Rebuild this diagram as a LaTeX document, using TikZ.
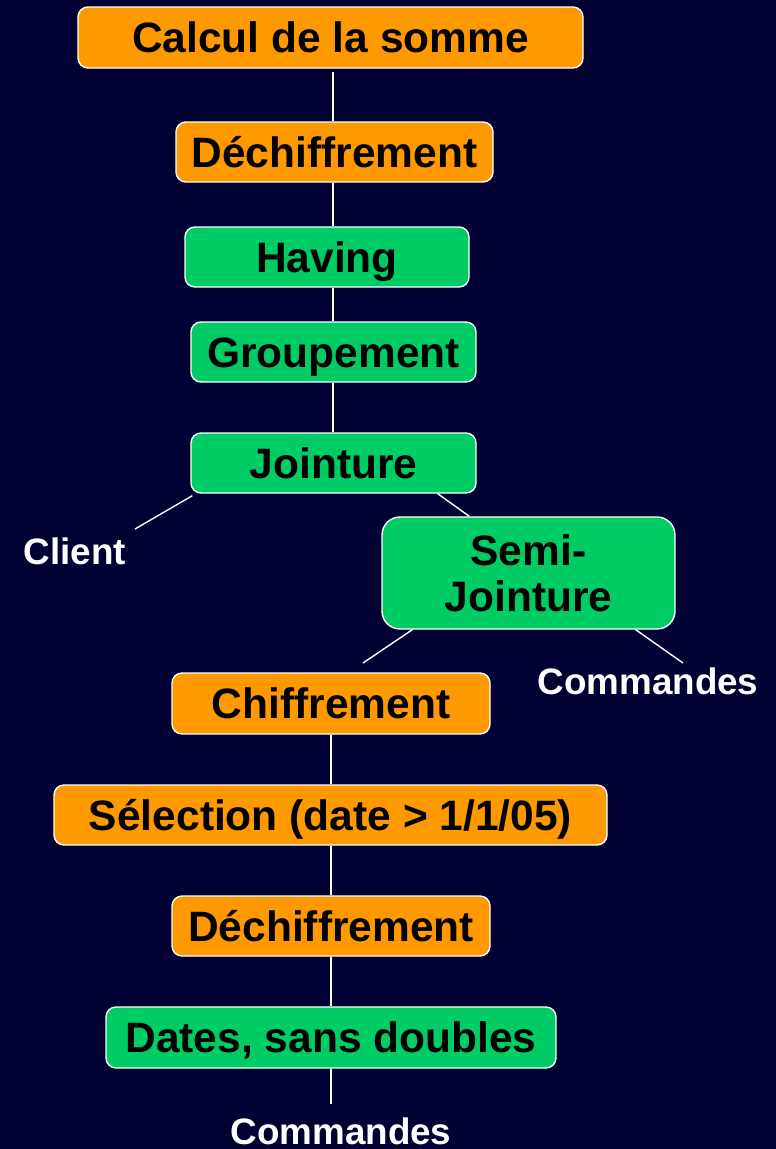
\documentclass[tikz,border=0pt]{standalone}
\usepackage{fontspec}
\setmainfont{Liberation Sans}
\definecolor{bg}{RGB}{0,0,51}
\definecolor{boxor}{RGB}{255,153,0}
\definecolor{boxgr}{RGB}{0,204,102}
\begin{document}
\begin{tikzpicture}[x=1pt,y=-1pt,
  boxbase/.style={draw=white, line width=1.4pt, rounded corners=10pt, inner sep=0pt,
    font=\fontsize{42.5}{46}\selectfont\bfseries, text=black},
  onebox/.style={boxbase, text height=30.4pt, text depth=0pt},
  orbox/.style={onebox, fill=boxor},
  grbox/.style={onebox, fill=boxgr},
  lbl/.style={inner sep=0pt, text=white, font=\fontsize{36.8}{40}\selectfont\bfseries,
    text height=26.3pt, text depth=0pt},
  conn/.style={draw=white, line width=1.4pt}
]
\useasboundingbox[fill=bg] (0,0) rectangle (776,1149);

\node[orbox, minimum width=505pt, minimum height=61pt] (somme) at (330.5,37.5) {Calcul de la somme};
\node[orbox, minimum width=317pt, minimum height=60pt] (dech1) at (334.5,152) {Déchiffrement};
\node[grbox, minimum width=284pt, minimum height=60pt] (having) at (327,257) {Having};
\node[grbox, minimum width=285pt, minimum height=60pt] (group) at (333.5,352) {Groupement};
\node[grbox, minimum width=285pt, minimum height=60pt] (joint) at (333.5,463) {Jointure};
\node[boxbase, fill=boxgr, rounded corners=18pt, align=center, minimum width=293pt, minimum height=112pt] (semi) at (528.5,573) {Semi-\\Jointure};
\node[orbox, minimum width=318pt, minimum height=61pt] (chiff) at (331,703.5) {Chiffrement};
\node[orbox, minimum width=553pt, minimum height=60pt] (sel) at (330.5,815) {Sélection (date > 1/1/05)};
\node[orbox, minimum width=318pt, minimum height=60pt] (dech2) at (331,926) {Déchiffrement};
\node[grbox, minimum width=450pt, minimum height=61pt] (dates) at (331,1037.5) {Dates, sans doubles};

\node[lbl] (client) at (75,551) {Client};
\node[lbl] (cmd1) at (648,681) {Commandes};
\node[lbl] (cmd2) at (341,1131) {Commandes};

\coordinate (clientend) at (135,529);
\coordinate (semileft) at (363,663);
\coordinate (cmd1end) at (683,663);
\coordinate (cmd2end) at (331,1104);

\draw[conn] (333,72) -- (333,0 |- dech1.north);
\draw[conn] (333,0 |- dech1.south) -- (333,0 |- having.north);
\draw[conn] (333,0 |- having.south) -- (333,0 |- group.north);
\draw[conn] (333,0 |- group.south) -- (333,0 |- joint.north);
\draw[conn] ([xshift=2pt,yshift=-2pt]joint.south west) -- (clientend);
\draw[conn] ([xshift=-39pt]joint.south east) -- ([xshift=88pt]semi.north west);
\draw[conn] ([xshift=31pt]semi.south west) -- (semileft);
\draw[conn] ([xshift=-40pt]semi.south east) -- (cmd1end);
\draw[conn] (331,0 |- chiff.south) -- (331,0 |- sel.north);
\draw[conn] (331,0 |- sel.south) -- (331,0 |- dech2.north);
\draw[conn] (331,0 |- dech2.south) -- (331,0 |- dates.north);
\draw[conn] (dates.south) -- (cmd2end);
\end{tikzpicture}
\end{document}
